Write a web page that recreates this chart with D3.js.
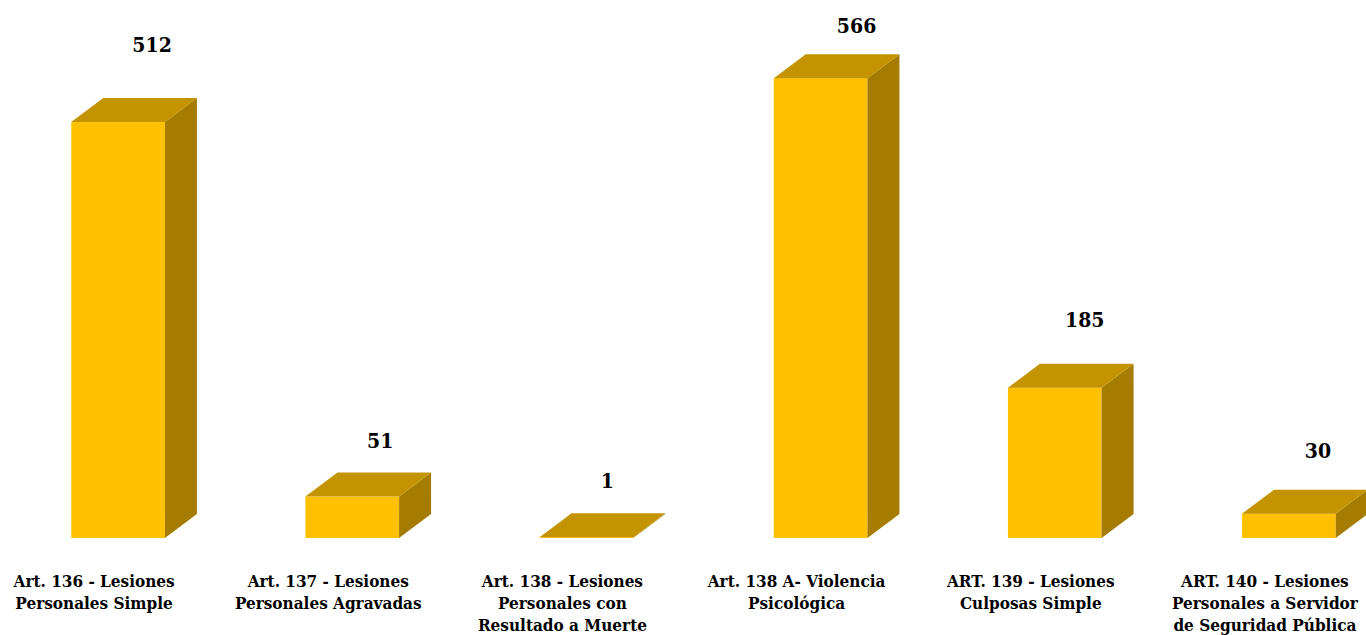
<!DOCTYPE html>
<html>
<head>
<meta charset="utf-8">
<script src="https://cdn.jsdelivr.net/npm/d3@7"></script>
<style>
  body { margin: 0; background: #fff; }
  svg { display: block; }
</style>
</head>
<body>
<svg id="chart"></svg>
<script>
// Data
const categories = [
    "Art. 136 - Lesiones Personales Simple",
    "Art. 137 - Lesiones Personales Agravadas",
    "Art. 138 - Lesiones Personales con Resultado a Muerte",
    "Art. 138 A- Violencia Psicológica",
    "ART. 139 - Lesiones Culposas Simple",
    "ART. 140 - Lesiones Personales a Servidor de Seguridad Pública"
];
const values = [512, 51, 1, 566, 185, 30];
const tickLines = [
    ["Art. 136 - Lesiones", "Personales Simple"],
    ["Art. 137 - Lesiones", "Personales Agravadas"],
    ["Art. 138 - Lesiones", "Personales con", "Resultado a Muerte"],
    ["Art. 138 A- Violencia", "Psicológica"],
    ["ART. 139 - Lesiones", "Culposas Simple"],
    ["ART. 140 - Lesiones", "Personales a Servidor", "de Seguridad Pública"]
];

document.addEventListener('DOMContentLoaded', function () {
    drawChart('chart');
});

function drawChart(id) {
    const svgWidth = 1366;
    const svgHeight = 635;
    const base = 538;          // floor line of the front faces
    const depthX = 32;         // 3D depth offsets
    const depthY = 24;
    const font = "'DejaVu Serif Condensed', 'DejaVu Serif', serif";

    // hand-placed data labels in the original: offset from top-front centre
    const labelShift = [[34, 70], [28, 49], [21, 49], [36, 45], [30, 61], [29, 56]];

    const svg = d3.select(`#${id}`)
        .attr("width", svgWidth)
        .attr("height", svgHeight);

    const x = d3.scaleBand()
        .domain(categories)
        .range([1, 1406])
        .paddingInner(0.6)
        .paddingOuter(0.3);

    const y = d3.scaleLinear()
        .domain([0, 600])
        .range([base, base - 487.5]);

    const data = categories.map((c, i) => ({ cat: c, value: values[i], lines: tickLines[i], i: i }));
    const bw = x.bandwidth();

    const bars = svg.append("g").attr("class", "bars")
        .selectAll("g")
        .data(data)
        .join("g");

    // front face
    bars.append("rect")
        .attr("x", d => x(d.cat))
        .attr("y", d => y(d.value))
        .attr("width", bw)
        .attr("height", d => base - y(d.value))
        .attr("fill", "#FFC000");

    // right side face
    bars.append("path")
        .attr("fill", "#A67C00")
        .attr("d", d => {
            const x0 = x(d.cat) + bw, yt = y(d.value);
            return `M${x0},${yt}L${x0 + depthX},${yt - depthY}L${x0 + depthX},${base - depthY}L${x0},${base}Z`;
        });

    // top face
    bars.append("path")
        .attr("fill", "#C49300")
        .attr("d", d => {
            const x0 = x(d.cat), yt = y(d.value);
            return `M${x0},${yt}L${x0 + depthX},${yt - depthY}L${x0 + bw + depthX},${yt - depthY}L${x0 + bw},${yt}Z`;
        });

    // value labels
    bars.append("text")
        .attr("x", d => x(d.cat) + bw / 2 + labelShift[d.i][0])
        .attr("y", d => y(d.value) - labelShift[d.i][1])
        .attr("text-anchor", "middle")
        .attr("font-family", font)
        .attr("font-weight", "bold")
        .attr("font-size", 21)
        .attr("fill", "#000")
        .text(d => d.value);

    // category axis (no line, no ticks), multi-line labels
    const axis = svg.append("g")
        .attr("class", "axis x-axis")
        .attr("transform", `translate(-24,${base})`)
        .call(d3.axisBottom(x).tickSize(0).tickFormat(""));
    axis.select(".domain").remove();

    axis.selectAll(".tick text")
        .data(data)
        .attr("y", 49)
        .attr("dy", 0)
        .attr("font-family", font)
        .attr("font-weight", "bold")
        .attr("font-size", 17)
        .attr("fill", "#000")
        .each(function (d) {
            const t = d3.select(this);
            d.lines.forEach((line, i) => {
                t.append("tspan")
                    .attr("x", 0)
                    .attr("dy", i === 0 ? 0 : 22)
                    .text(line);
            });
        });
}
</script>
</body>
</html>
